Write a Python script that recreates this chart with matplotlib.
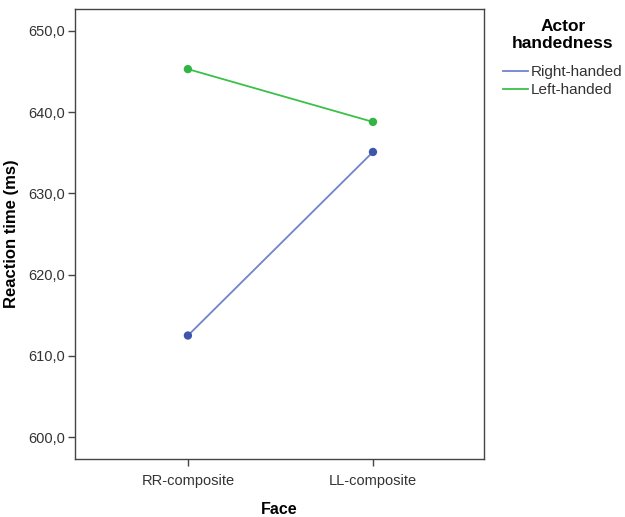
import matplotlib
matplotlib.use("Agg")
import matplotlib.pyplot as plt
from matplotlib.ticker import FuncFormatter
from matplotlib.lines import Line2D

categories = ["RR-composite", "LL-composite"]
right_handed = [612.5, 635.1]
left_handed = [645.3, 638.8]
yticks = [600, 610, 620, 630, 640, 650]
series_names = ["Right-handed", "Left-handed"]

plt.rcParams['font.family'] = ['Liberation Sans', 'DejaVu Sans']

fig = plt.figure(figsize=(6.25, 5.17), dpi=100)
W, H = 625, 517
ax = fig.add_axes([75 / W, 1 - 459 / H, (484 - 75) / W, (459 - 9) / H])

blue_line, green_line = "#7083cc", "#3cc04a"
x = list(range(len(categories)))
ax.plot(x, right_handed, color=blue_line, lw=1.3, zorder=2)
ax.plot(x, left_handed, color=green_line, lw=1.3, zorder=2)
ax.scatter(x, right_handed, s=36, color="#3d56ad", zorder=3, edgecolors="none")
ax.scatter(x, left_handed, s=36, color="#30b545", zorder=3, edgecolors="none")

ax.set_xlim(-0.61, 1.6)
ax.set_ylim(597.3, 652.7)
ax.set_xticks(x)
ax.set_xticklabels(categories)
ax.set_yticks(yticks)
ax.yaxis.set_major_formatter(FuncFormatter(lambda v, p: f"{v:.1f}".replace(".", ",")))
for s in ax.spines.values():
    s.set_color("#444444")
    s.set_linewidth(1.0)
ax.tick_params(axis="both", colors="#444444", labelcolor="#333333", labelsize=10.5, length=5, width=1.0, pad=2)
ax.tick_params(axis="x", pad=6)

ax.set_ylabel("Reaction time (ms)", fontsize=12, fontweight="bold")
ax.yaxis.set_label_coords(-0.137, 0.5)
ax.set_xlabel("Face", fontsize=11.5, fontweight="bold", labelpad=10)

fig.text(563 / W, 1 - 35 / H, "Actor\nhandedness", fontsize=12.5, fontweight="bold",
         ha="center", va="center", multialignment="center", linespacing=1.15)

handles = [Line2D([], [], color=blue_line, lw=1.3), Line2D([], [], color=green_line, lw=1.3)]
leg = fig.legend(handles, series_names,
                 loc="upper left", bbox_to_anchor=(503 / W, 1 - 65 / H), frameon=False,
                 fontsize=11, handlelength=1.65, handletextpad=0.15, labelspacing=0.28,
                 borderaxespad=0, borderpad=0)
for t in leg.get_texts():
    t.set_color("#333333")

fig.savefig("out.png", dpi=100)
